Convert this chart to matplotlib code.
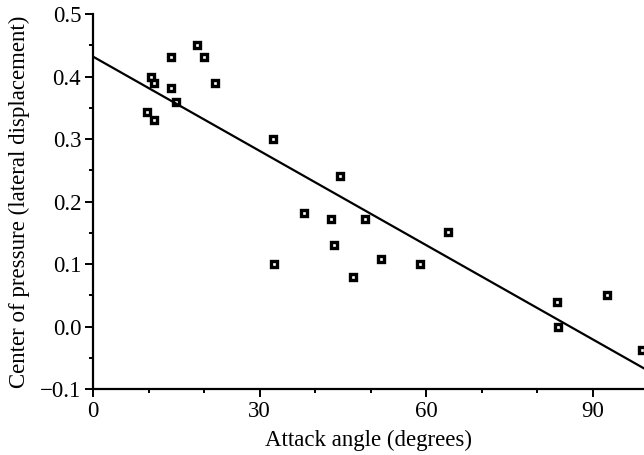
import matplotlib
matplotlib.use("Agg")
import matplotlib.pyplot as plt
import numpy as np
from matplotlib.ticker import MultipleLocator

# Data
attack_angle = [9.8, 11.0, 10.5, 11.0, 14.0, 14.0, 15.0, 18.8, 19.9, 22.0,
                32.4, 32.6, 37.9, 42.8, 43.3, 44.5, 46.8, 48.9, 51.8, 58.8,
                64.0, 83.6, 83.8, 92.5, 98.8]
center_pressure = [0.343, 0.331, 0.400, 0.390, 0.432, 0.381, 0.360, 0.450, 0.432, 0.390,
                   0.300, 0.100, 0.182, 0.172, 0.130, 0.241, 0.080, 0.172, 0.108, 0.100,
                   0.151, 0.040, -0.001, 0.050, -0.038]
fit_intercept = 0.432
fit_slope = -0.00503
x_ticks = [0, 30, 60, 90]
y_ticks = [-0.1, 0.0, 0.1, 0.2, 0.3, 0.4, 0.5]
y_tick_labels = ["\u22120.1", "0.0", "0.1", "0.2", "0.3", "0.4", "0.5"]

plt.rcParams['font.family'] = ['Liberation Serif', 'DejaVu Serif']
plt.rcParams['font.size'] = 16.5

fig = plt.figure(figsize=(6.44, 4.55), dpi=100)
ax = fig.add_axes([0.1444, 0.145, 1.0 - 0.1444, 0.969 - 0.145])

xmin, xmax = 0, 99.2
ax.set_xlim(xmin, xmax)
ax.set_ylim(-0.1, 0.5)

ax.plot(attack_angle, center_pressure, linestyle='none', marker='s',
        markersize=4.0, markeredgewidth=2.4, markeredgecolor='black',
        markerfacecolor='white', zorder=2, clip_on=False)

lx = np.array([xmin, xmax])
ax.plot(lx, fit_intercept + fit_slope * lx, color='black', linewidth=1.6, zorder=3)

for s in ['top', 'right']:
    ax.spines[s].set_visible(False)
for s in ['left', 'bottom']:
    ax.spines[s].set_linewidth(1.6)

ax.set_xticks(x_ticks)
ax.set_xticklabels([str(v) for v in x_ticks])
ax.xaxis.set_minor_locator(MultipleLocator(10))
ax.set_yticks(y_ticks)
ax.set_yticklabels(y_tick_labels)
ax.yaxis.set_minor_locator(MultipleLocator(0.05))

ax.tick_params(which='major', direction='out', length=5.5, width=1.4, pad=3)
ax.tick_params(which='minor', direction='out', length=3, width=1.4)

ax.set_xlabel("Attack angle (degrees)", labelpad=6)
ax.set_ylabel("Center of pressure (lateral displacement)", labelpad=7)

fig.savefig("out.png", dpi=100)
